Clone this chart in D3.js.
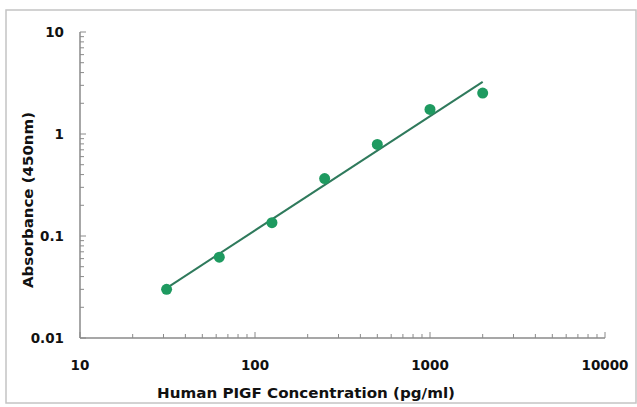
<!DOCTYPE html>
<html>
<head>
<meta charset="utf-8">
<script src="https://cdn.jsdelivr.net/npm/d3@7"></script>
<style>
  html, body { margin: 0; padding: 0; background: #fff; }
  svg text { font-family: "DejaVu Sans", "Liberation Sans", Arial, sans-serif; font-weight: bold; fill: #111; }
</style>
</head>
<body>
<svg id="chart" width="637" height="407"></svg>
<script>
// standard curve: concentration (pg/ml) vs absorbance (450nm)
const conc = [31.25, 62.5, 125, 250, 500, 1000, 2000];
const absorb = [0.030, 0.062, 0.135, 0.366, 0.79, 1.74, 2.52];
const xTicks = [10, 100, 1000, 10000];
const yTicks = [0.01, 0.1, 1, 10];

const svg = d3.select('#chart');
const m = { left: 80, right: 32, top: 32, bottom: 69 };
const W = 637, H = 407;

// frame
svg.append('rect')
  .attr('x', 6).attr('y', 10).attr('width', 630).attr('height', 393)
  .attr('fill', 'none').attr('stroke', '#c4c4c4').attr('stroke-width', 1.5);

const x = d3.scaleLog().domain([10, 10000]).range([m.left, W - m.right]);
const y = d3.scaleLog().domain([0.01, 10]).range([H - m.bottom, m.top]);

// minor ticks (2..9 of each decade)
const minorX = x.ticks().filter(v => !xTicks.includes(v));
const minorY = y.ticks().filter(v => !yTicks.includes(v));

const axisColor = '#8a8a8a';
const g = svg.append('g');

g.selectAll('line.mx').data(minorX).enter().append('line')
  .attr('x1', d => x(d)).attr('x2', d => x(d))
  .attr('y1', y(0.01)).attr('y2', y(0.01) - 4)
  .attr('stroke', axisColor).attr('stroke-width', 1);
g.selectAll('line.Mx').data(xTicks).enter().append('line')
  .attr('x1', d => x(d)).attr('x2', d => x(d))
  .attr('y1', y(0.01)).attr('y2', y(0.01) - 6)
  .attr('stroke', axisColor).attr('stroke-width', 1);
g.selectAll('line.my').data(minorY).enter().append('line')
  .attr('y1', d => y(d)).attr('y2', d => y(d))
  .attr('x1', x(10)).attr('x2', x(10) + 4)
  .attr('stroke', axisColor).attr('stroke-width', 1);
g.selectAll('line.My').data(yTicks).enter().append('line')
  .attr('y1', d => y(d)).attr('y2', d => y(d))
  .attr('x1', x(10)).attr('x2', x(10) + 6)
  .attr('stroke', axisColor).attr('stroke-width', 1);

// axis lines
g.append('line').attr('x1', x(10)).attr('x2', x(10000))
  .attr('y1', y(0.01)).attr('y2', y(0.01))
  .attr('stroke', axisColor).attr('stroke-width', 1.5);
g.append('line').attr('x1', x(10)).attr('x2', x(10))
  .attr('y1', y(0.01)).attr('y2', y(10))
  .attr('stroke', axisColor).attr('stroke-width', 1.5);

// tick labels
g.selectAll('text.xl').data(xTicks).enter().append('text')
  .attr('x', d => x(d)).attr('y', y(0.01) + 32)
  .attr('text-anchor', 'middle').attr('font-size', 13.5)
  .text(d => d);
g.selectAll('text.yl').data(yTicks).enter().append('text')
  .attr('x', x(10) - 16).attr('y', d => y(d) + 5)
  .attr('text-anchor', 'end').attr('font-size', 13.5)
  .text(d => d);

// axis titles
svg.append('text').attr('x', 306).attr('y', 398)
  .attr('text-anchor', 'middle').attr('font-size', 14)
  .attr('textLength', 298).attr('lengthAdjust', 'spacingAndGlyphs')
  .text('Human PIGF Concentration (pg/ml)');
svg.append('text')
  .attr('transform', 'translate(33, 200) rotate(-90)')
  .attr('text-anchor', 'middle').attr('font-size', 13.5)
  .attr('textLength', 176).attr('lengthAdjust', 'spacingAndGlyphs')
  .text('Absorbance (450nm)');

// log-log linear regression for the fit line
const lx = conc.map(Math.log10), ly = absorb.map(Math.log10);
const mx = d3.mean(lx), my = d3.mean(ly);
const slope = d3.sum(lx, (v, i) => (v - mx) * (ly[i] - my)) / d3.sum(lx, v => (v - mx) ** 2);
const icpt = my - slope * mx;
const fit = d => Math.pow(10, icpt + slope * Math.log10(d));
const ends = d3.extent(conc);

svg.append('line')
  .attr('x1', x(ends[0])).attr('y1', y(fit(ends[0])))
  .attr('x2', x(ends[1])).attr('y2', y(fit(ends[1])))
  .attr('stroke', '#2f7a5c').attr('stroke-width', 2);

svg.selectAll('circle.pt').data(conc).enter().append('circle')
  .attr('cx', d => x(d)).attr('cy', (d, i) => y(absorb[i]))
  .attr('r', 5.5).attr('fill', '#1e9a60');
</script>
</body>
</html>
